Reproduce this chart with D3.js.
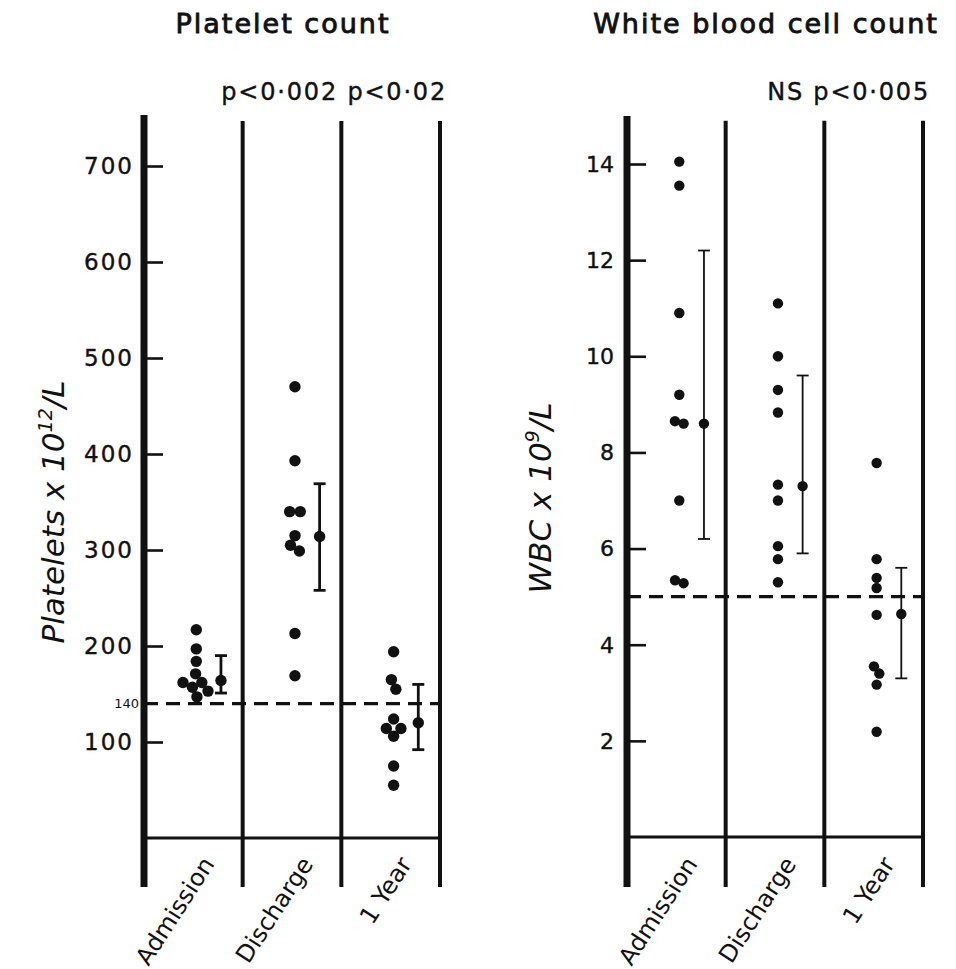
<!DOCTYPE html>
<html>
<head>
<meta charset="utf-8">
<script src="https://cdn.jsdelivr.net/npm/d3@7"></script>
<style>
  body { margin: 0; background: #fff; }
  text { font-family: "DejaVu Sans", Lato, sans-serif; fill: #111; }
</style>
</head>
<body>
<svg id="chart" width="956" height="969"></svg>
<script>
// Categories shared by both panels
const groups = ["Admission", "Discharge", "1 Year"];

// Platelet count (x 10^12/L), one value per patient
const plateletAdmission = [217, 197, 184, 171, 162, 162, 157, 153, 147];
const plateletDischarge = [470, 393, 340, 340, 315, 305, 299, 213, 169];
const plateletYear = [194, 165, 155, 124, 114, 114, 106, 75, 55];
const plateletMean = [164, 314, 120];
const plateletLow = [151, 258, 92];
const plateletHigh = [190, 369, 160];
const plateletTicks = [100, 200, 300, 400, 500, 600, 700];
const plateletRef = 140;
const plateletP = ["p<0·002", "p<0·02"];

// White blood cell count (x 10^9/L)
const wbcAdmission = [14.05, 13.55, 10.9, 9.2, 8.65, 8.6, 7.0, 5.34, 5.28];
const wbcDischarge = [11.1, 10.0, 9.3, 8.83, 7.33, 7.0, 6.05, 5.78, 5.3];
const wbcYear = [7.78, 5.78, 5.39, 5.18, 4.62, 3.55, 3.4, 3.17, 2.19];
const wbcMean = [8.6, 7.3, 4.64];
const wbcLow = [6.2, 5.9, 3.3];
const wbcHigh = [12.2, 9.6, 5.6];
const wbcTicks = [2, 4, 6, 8, 10, 12, 14];
const wbcRef = 5;
const wbcP = ["NS", "p<0·005"];

const svg = d3.select("#chart");

// spread overlapping dots sideways (beeswarm) with a force layout
function swarm(values, cx, y, r) {
  const nodes = values.map(v => ({ x: cx, y: y(v), fy: y(v), v: v }));
  const sim = d3.forceSimulation(nodes)
    .force("x", d3.forceX(cx).strength(0.08))
    .force("collide", d3.forceCollide(r).iterations(3))
    .stop();
  for (let i = 0; i < 300; i++) sim.tick();
  return nodes;
}

function drawPanel(cfg) {
  const g = svg.append("g");
  const x = d3.scaleBand().domain(groups).range(cfg.xRange).paddingInner(0).paddingOuter(0);
  const y = d3.scaleLinear().domain([0, cfg.top]).range(cfg.yRange);
  const bw = x.bandwidth();
  const left = cfg.xRange[0], right = cfg.xRange[1];

  // title and p values
  g.append("text")
    .attr("x", (left + right) / 2 - 9)
    .attr("y", 33)
    .attr("text-anchor", "middle")
    .style("font-size", "27px")
    .style("letter-spacing", "2px")
    .style("stroke", "#111")
    .style("stroke-width", "0.9px")
    .text(cfg.title);

  g.append("text")
    .attr("x", right + 7)
    .attr("y", 100)
    .attr("text-anchor", "end")
    .style("font-size", "24px")
    .style("letter-spacing", "1.8px")
    .style("stroke", "#111")
    .style("stroke-width", "0.4px")
    .text(cfg.pvals.join(" "));

  // column dividers
  g.selectAll(".divider")
    .data(groups.slice(1).map(d => x(d)).concat([right]))
    .enter().append("line")
    .attr("x1", d => d).attr("x2", d => d)
    .attr("y1", y(cfg.extent[0])).attr("y2", y(cfg.divTop))
    .attr("stroke", "#111").attr("stroke-width", 4);

  // baseline at zero
  g.append("line")
    .attr("x1", left).attr("x2", right)
    .attr("y1", y(0)).attr("y2", y(0))
    .attr("stroke", "#111").attr("stroke-width", 3);

  // y axis with ticks on the inside
  const axis = d3.axisRight(y).tickValues(cfg.ticks).tickSize(cfg.tickLen).tickFormat("");
  const ag = g.append("g").attr("transform", "translate(" + left + ",0)").call(axis);
  ag.select(".domain").remove();
  ag.selectAll(".tick line").attr("stroke", "#111").attr("stroke-width", 2.6);

  g.append("line")
    .attr("x1", left).attr("x2", left)
    .attr("y1", y(cfg.extent[0])).attr("y2", y(cfg.extent[1]))
    .attr("stroke", "#111").attr("stroke-width", 7);

  g.selectAll(".ylab")
    .data(cfg.ticks)
    .enter().append("text")
    .attr("x", left - cfg.labelGap)
    .attr("y", d => y(d))
    .attr("dy", "0.36em")
    .attr("text-anchor", "end")
    .style("font-size", cfg.tickFont)
    .style("letter-spacing", cfg.tickSpacing)
    .style("stroke", "#111")
    .style("stroke-width", "0.4px")
    .text(d => d);

  if (cfg.refLabel) {
    g.append("text")
      .attr("x", left - 5)
      .attr("y", y(cfg.ref))
      .attr("dy", "0.36em")
      .attr("text-anchor", "end")
      .style("font-size", "13px")
      .text(cfg.ref);
  }

  // dashed reference line
  g.append("line")
    .attr("x1", left).attr("x2", right)
    .attr("y1", y(cfg.ref)).attr("y2", y(cfg.ref))
    .attr("stroke", "#111").attr("stroke-width", 3.2)
    .attr("stroke-dasharray", "14,8");

  // y axis title
  const yt = g.append("text")
    .attr("transform", "translate(" + (left - cfg.titleGap) + "," + cfg.titleY + ") rotate(-90)")
    .attr("text-anchor", "middle")
    .style("font-size", "31px")
    .style("font-style", "italic");
  yt.append("tspan").text(cfg.yTitle[0]);
  yt.append("tspan").attr("dy", -12).style("font-size", "19px").text(cfg.yTitle[1]);
  yt.append("tspan").attr("dy", 12).text("/L");

  // individual values
  cfg.series.forEach((vals, i) => {
    const cx = x(groups[i]) + bw * 0.53;
    const nodes = swarm(vals, cx, y, cfg.collide);
    g.selectAll(".dot" + i)
      .data(nodes)
      .enter().append("circle")
      .attr("cx", d => d.x)
      .attr("cy", d => d.y)
      .attr("r", cfg.r)
      .attr("fill", "#111");
  });

  // mean with range bar
  groups.forEach((grp, i) => {
    const mx = x(grp) + bw * 0.78;
    g.append("line")
      .attr("x1", mx).attr("x2", mx)
      .attr("y1", y(cfg.low[i])).attr("y2", y(cfg.high[i]))
      .attr("stroke", "#111").attr("stroke-width", cfg.barW);
    [cfg.low[i], cfg.high[i]].forEach(v => {
      g.append("line")
        .attr("x1", mx - 6).attr("x2", mx + 6)
        .attr("y1", y(v)).attr("y2", y(v))
        .attr("stroke", "#111").attr("stroke-width", cfg.barW);
    });
    g.append("circle")
      .attr("cx", mx).attr("cy", y(cfg.mean[i]))
      .attr("r", cfg.r).attr("fill", "#111");
  });

  // rotated category labels
  g.selectAll(".cat")
    .data(groups)
    .enter().append("text")
    .attr("transform", d => "translate(" + (x(d) + bw / 2 + 22) + ",864) rotate(-57)")
    .attr("text-anchor", "end")
    .style("font-size", "24px")
    .text(d => d);
}

drawPanel({
  title: "Platelet count",
  pvals: plateletP,
  xRange: [144, 440],
  yRange: [838, 166],
  top: 700,
  extent: [-51, 753],
  divTop: 747,
  ticks: plateletTicks,
  tickLen: 19,
  tickFont: "23px",
  tickSpacing: "2px",
  labelGap: 10,
  ref: plateletRef,
  refLabel: true,
  titleGap: 80,
  titleY: 512,
  yTitle: ["Platelets x 10", "12"],
  series: [plateletAdmission, plateletDischarge, plateletYear],
  mean: plateletMean,
  low: plateletLow,
  high: plateletHigh,
  r: 5.7,
  collide: 5.3,
  barW: 2.8
});

drawPanel({
  title: "White blood cell count",
  pvals: wbcP,
  xRange: [627, 923],
  yRange: [837, 164],
  top: 14,
  extent: [-1.04, 15],
  divTop: 14.9,
  ticks: wbcTicks,
  tickLen: 19,
  tickFont: "22px",
  tickSpacing: "0px",
  labelGap: 13,
  ref: wbcRef,
  refLabel: false,
  titleGap: 76,
  titleY: 498,
  yTitle: ["WBC x 10", "9"],
  series: [wbcAdmission, wbcDischarge, wbcYear],
  mean: wbcMean,
  low: wbcLow,
  high: wbcHigh,
  r: 5.2,
  collide: 4.5,
  barW: 1.8
});
</script>
</body>
</html>
